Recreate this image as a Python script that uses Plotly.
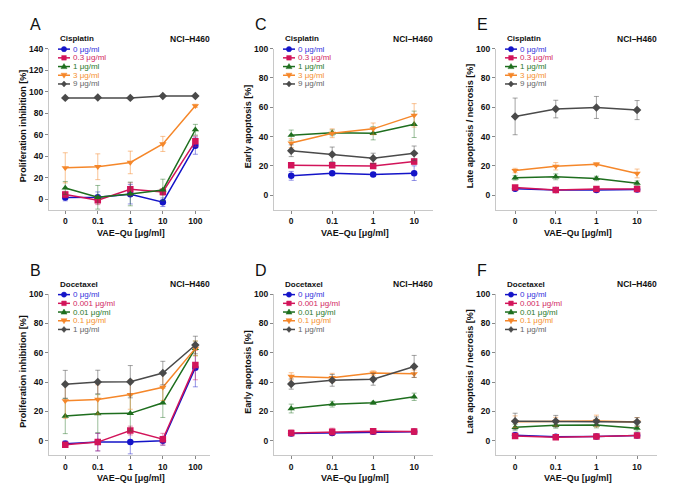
import plotly.graph_objects as go

# VAE-Qu concentrations (categorical x axis)
vae_5 = ["0", "0.1", "1", "10", "100"]
vae_4 = ["0", "0.1", "1", "10"]

cis_doses = ["0 μg/ml", "0.3 μg/ml", "1 μg/ml", "3 μg/ml", "9 μg/ml"]
doc_doses = ["0 μg/ml", "0.001 μg/ml", "0.01 μg/ml", "0.1 μg/ml", "1 μg/ml"]

# A: proliferation inhibition, cisplatin
a_mean = [[1.5, 1.8, 4.6, -2.8, 49.8],
          [4.3, -1.0, 9.2, 6.8, 53.8],
          [10.5, 1.8, 4.9, 8.6, 64.6],
          [29.2, 30.2, 34.2, 51.4, 86.8],
          [94.2, 94.5, 94.2, 96.0, 96.0]]
a_err = [[3, 5, 9, 4, 8],
         [3, 4, 6, 3, 5],
         [6, 11, 11, 10, 5],
         [14, 12, 10.5, 7, 1.5],
         [0.5, 0.5, 0.5, 0.5, 0.5]]

# B: proliferation inhibition, docetaxel
b_mean = [[-2.0, -0.9, -0.9, 0.0, 49.8],
          [-2.7, -0.9, 7.0, 1.1, 51.6],
          [16.9, 18.5, 18.7, 25.9, 63.0],
          [27.3, 28.2, 31.5, 36.5, 63.0],
          [38.5, 40.1, 40.3, 46.2, 65.3]]
b_err = [[2, 6, 8, 3, 13],
         [1, 6, 3, 4, 10],
         [12, 13, 12, 10, 5],
         [12, 10, 10, 9, 5],
         [9.5, 8, 11, 8, 6]]

# C: early apoptosis, cisplatin
c_mean = [[13.3, 15.1, 14.2, 15.1],
          [20.5, 20.5, 20.0, 23.0],
          [41.0, 42.6, 42.3, 48.4],
          [35.6, 42.3, 45.3, 54.5],
          [30.4, 27.9, 25.2, 28.6]]
c_err = [[3, 1, 1, 5],
         [1.5, 1.5, 1.5, 2],
         [3.5, 2, 4.5, 9],
         [3, 3, 4, 8],
         [4, 5, 3.5, 5]]

# D: early apoptosis, docetaxel
d_mean = [[5.0, 5.4, 6.1, 6.1],
          [5.4, 6.1, 6.5, 6.3],
          [22.0, 25.0, 25.9, 30.0],
          [43.9, 43.0, 46.2, 45.7],
          [38.7, 41.2, 41.9, 50.7]]
d_err = [[1.5, 1.5, 1.5, 1.5],
         [2, 2.5, 1.5, 2],
         [3, 2, 1, 2.5],
         [2.5, 3, 1.5, 2.5],
         [3.5, 4, 4, 7.5]]

# E: late apoptosis / necrosis, cisplatin
e_mean = [[4.5, 3.6, 3.6, 4.0],
          [5.4, 3.6, 4.3, 4.3],
          [11.9, 12.6, 11.5, 8.3],
          [16.9, 19.8, 21.2, 14.9],
          [53.8, 58.8, 59.9, 58.1]]
e_err = [[1, 1, 1, 1],
         [1, 1, 1, 1],
         [1.5, 2, 1.5, 1.5],
         [1.5, 2.5, 1, 3],
         [12.5, 6, 7.5, 6.5]]

# F: late apoptosis / necrosis, docetaxel
f_mean = [[3.8, 2.7, 2.9, 3.6],
          [3.2, 2.5, 2.9, 3.6],
          [9.2, 10.6, 10.8, 8.6],
          [13.0, 13.0, 13.5, 12.8],
          [13.3, 13.3, 13.3, 12.8]]
f_err = [[2, 1, 1, 1],
         [1, 1, 1, 1],
         [2, 2, 2, 2],
         [4, 3, 4, 3],
         [5.5, 4, 3, 3]]

colors = ["#1414c8", "#d2145a", "#1e6e1e", "#f5872a", "#4a4a4a"]
err_colors = ["rgba(20,20,200,0.45)", "rgba(210,20,90,0.45)", "rgba(30,110,30,0.45)",
              "rgba(245,135,42,0.5)", "rgba(74,74,74,0.5)"]
text_colors = ["#3232dc", "#d2285f", "#2a7a2a", "#f5912f", "#666666"]
symbols = ["circle", "square", "triangle-up", "triangle-down", "diamond"]

# page body has an 8px margin, so the figure is a bit smaller than the window
OFF = 8
W, H = 685 - OFF, 501 - OFF
FONT = "Liberation Sans, Arial, sans-serif"

# panel: letter, x data, means, errs, drug, dose labels, y title, y range,
#        plot box in window pixels (left, right, top, bottom), x range, top tick
panels = [
    ("A", vae_5, a_mean, a_err, "Cisplatin", cis_doses, "Proliferation inhibition [%]",
     [-10, 140], (49, 210, 44, 207), [-0.5, 4.45], 140),
    ("B", vae_5, b_mean, b_err, "Docetaxel", doc_doses, "Proliferation inhibition [%]",
     [-10, 100], (49, 210, 292, 455), [-0.5, 4.45], 100),
    ("C", vae_4, c_mean, c_err, "Cisplatin", cis_doses, "Early apoptosis [%]",
     [-10, 100], (274, 433, 44, 207), [-0.42, 3.46], 100),
    ("D", vae_4, d_mean, d_err, "Docetaxel", doc_doses, "Early apoptosis [%]",
     [-10, 100], (274, 433, 292, 455), [-0.42, 3.46], 100),
    ("E", vae_4, e_mean, e_err, "Cisplatin", cis_doses, "Late apoptosis / necrosis [%]",
     [-10, 100], (496, 657, 44, 207), [-0.47, 3.49], 100),
    ("F", vae_4, f_mean, f_err, "Docetaxel", doc_doses, "Late apoptosis / necrosis [%]",
     [-10, 100], (496, 657, 292, 455), [-0.47, 3.49], 100),
]


def px(x):
    return (x - OFF) / W


def py(y):
    return 1 - (y - OFF) / H


def marker_shape(sym, cx, cy, color, s=2.6):
    base = dict(xref="paper", yref="paper", fillcolor=color, line=dict(color=color, width=0.5))
    if sym == "circle":
        return dict(type="circle", x0=px(cx - s), x1=px(cx + s), y0=py(cy + s), y1=py(cy - s), **base)
    if sym == "square":
        return dict(type="rect", x0=px(cx - s + 0.3), x1=px(cx + s - 0.3),
                    y0=py(cy + s - 0.3), y1=py(cy - s + 0.3), **base)
    if sym == "triangle-up":
        pts = [(cx - s - 0.4, cy + s * 0.8), (cx + s + 0.4, cy + s * 0.8), (cx, cy - s - 0.4)]
    elif sym == "triangle-down":
        pts = [(cx - s - 0.4, cy - s * 0.8), (cx + s + 0.4, cy - s * 0.8), (cx, cy + s + 0.4)]
    else:
        pts = [(cx, cy - s - 0.4), (cx + s, cy), (cx, cy + s + 0.4), (cx - s, cy)]
    path = "M " + " L ".join(f"{px(a):.5f},{py(b):.5f}" for a, b in pts) + " Z"
    return dict(type="path", path=path, **base)


def label(text, x, y, size, color="#111111", bold=True, anchor="left", angle=0):
    font = dict(family=FONT, size=size, color=color)
    if bold:
        font["weight"] = "bold"
    return dict(text=text, xref="paper", yref="paper", x=px(x), y=py(y),
                xanchor=anchor, yanchor="middle", showarrow=False, textangle=angle, font=font)


fig = go.Figure()
layout = {}
annotations = []
shapes = []

for i, (letter, xs, means, errs, drug, doses, ytitle, yrange, box, xrange_, ytop) in enumerate(panels):
    sfx = "" if i == 0 else str(i + 1)
    left, right, top, bottom = box
    for k in range(5):
        fig.add_trace(go.Scatter(
            x=xs, y=means[k],
            error_y=dict(type="data", array=errs[k], color=err_colors[k], thickness=1, width=2.5),
            mode="lines+markers",
            line=dict(color=colors[k], width=1.5),
            marker=dict(symbol=symbols[k], size=6.5, color=colors[k]),
            name=doses[k], showlegend=False,
            xaxis="x" + sfx, yaxis="y" + sfx,
        ))

    layout["xaxis" + sfx] = dict(
        domain=[px(left), px(right)], anchor="y" + sfx, type="category",
        range=xrange_, showline=True, linecolor="#c8c8c8", linewidth=1,
        ticks="outside", ticklen=3, tickcolor="#888888", showgrid=False, zeroline=False,
        tickfont=dict(family=FONT, size=8.5, color="#111111", weight="bold"),
    )
    layout["yaxis" + sfx] = dict(
        domain=[py(bottom), py(top)], anchor="x" + sfx,
        range=yrange, tickvals=list(range(0, ytop + 1, 20)),
        showline=True, linecolor="#c8c8c8", linewidth=1,
        ticks="outside", ticklen=3, tickcolor="#888888", showgrid=False, zeroline=False,
        tickfont=dict(family=FONT, size=8.5, color="#111111", weight="bold"),
    )

    # axis titles
    annotations.append(label("VAE–Qu [μg/ml]", (left + right) / 2 + 1, bottom + 23, 9, anchor="center"))
    annotations.append(label(ytitle, left - 26, (top + bottom) / 2 - 3, 9, anchor="center", angle=-90))

    # panel letter, drug and cell line labels
    annotations.append(label(letter, left - 21, top - 24, 16, bold=False))
    annotations.append(label(drug, left + 9, top - 10, 8))
    annotations.append(label("NCI–H460", right + 2, top - 10, 8.5, anchor="right"))

    # in-plot legend
    lx = left + 9
    for k in range(5):
        ly = top + 0.5 + k * 8.8
        shapes.append(dict(type="line", xref="paper", yref="paper",
                           x0=px(lx), x1=px(lx + 12), y0=py(ly), y1=py(ly),
                           line=dict(color=colors[k], width=1.5)))
        shapes.append(marker_shape(symbols[k], lx + 6, ly, colors[k]))
        annotations.append(label(doses[k], lx + 12.5, ly, 8, color=text_colors[k], bold=False))

fig.update_layout(
    width=W, height=H,
    margin=dict(l=0, r=0, t=0, b=0),
    paper_bgcolor="white", plot_bgcolor="white",
    showlegend=False,
    annotations=annotations, shapes=shapes,
    **layout,
)

fig.write_html("out.html")
